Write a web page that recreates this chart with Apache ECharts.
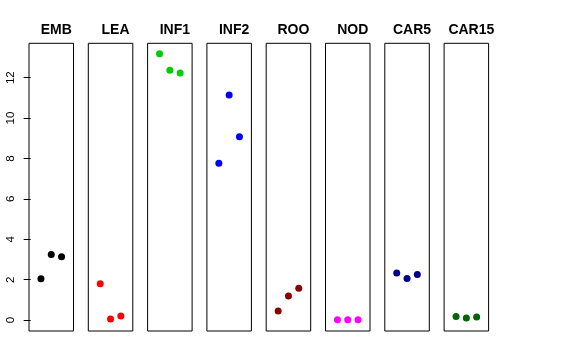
<!DOCTYPE html>
<html><head><meta charset="utf-8">
<script src="https://cdn.jsdelivr.net/npm/echarts@6/dist/echarts.min.js"></script>
<style>html,body{margin:0;padding:0;background:#fff}#c{width:576px;height:360px}</style>
</head><body><div id="c"></div>
<script>
const panels = ["EMB","LEA","INF1","INF2","ROO","NOD","CAR5","CAR15"];
const colors = ["#000000","#FF0000","#00CD00","#0000FF","#8B0000","#FF00FF","#00008B","#006400"];
const xPos = [1, 2, 3];
const EMB = [2.04, 3.25, 3.13];
const LEA = [1.80, 0.05, 0.20];
const INF1 = [13.18, 12.36, 12.23];
const INF2 = [7.76, 11.14, 9.07];
const ROO = [0.45, 1.19, 1.58];
const NOD = [0.02, 0.02, 0.02];
const CAR5 = [2.33, 2.06, 2.26];
const CAR15 = [0.18, 0.10, 0.15];
const yTicks = [0, 2, 4, 6, 8, 10, 12];
const values = [EMB, LEA, INF1, INF2, ROO, NOD, CAR5, CAR15];

const left0 = 29, step = 59.3, pw = 44.5, gTop = 43.3, ph = 287.7;
const grid = [], xAxis = [], yAxis = [], series = [], title = [];
panels.forEach((p, i) => {
  const l = left0 + i * step;
  grid.push({left: l, top: gTop, width: pw, height: ph, show: true, borderColor: '#000', borderWidth: 1, backgroundColor: 'transparent'});
  xAxis.push({type: 'value', gridIndex: i, min: -0.16, max: 4.16, show: false});
  yAxis.push({type: 'value', gridIndex: i, min: -0.54, max: 13.7, show: i === 0,
    splitLine: {show: false}, axisLine: {show: false},
    axisTick: {show: true, length: 7, lineStyle: {color: '#000'}, customValues: yTicks},
    axisLabel: {show: true, rotate: 90, fontSize: 11.5, color: '#000', margin: 12, fontFamily: 'Liberation Sans, Arial, sans-serif', customValues: yTicks}});
  series.push({type: 'scatter', xAxisIndex: i, yAxisIndex: i, symbol: 'circle', symbolSize: 7,
    itemStyle: {color: colors[i], opacity: 1}, silent: true,
    data: xPos.map((x, k) => [x, values[i][k]])});
  title.push({text: p, left: l + pw / 2, top: 18.5, textAlign: 'center',
    textStyle: {fontSize: 14, fontWeight: 'bold', color: '#000', fontFamily: 'Liberation Sans, Arial, sans-serif'}});
});
const chart = echarts.init(document.getElementById('c'), null, {renderer: 'canvas'});
chart.setOption({animation: false, backgroundColor: '#fff', title, grid, xAxis, yAxis, series});
</script></body></html>
